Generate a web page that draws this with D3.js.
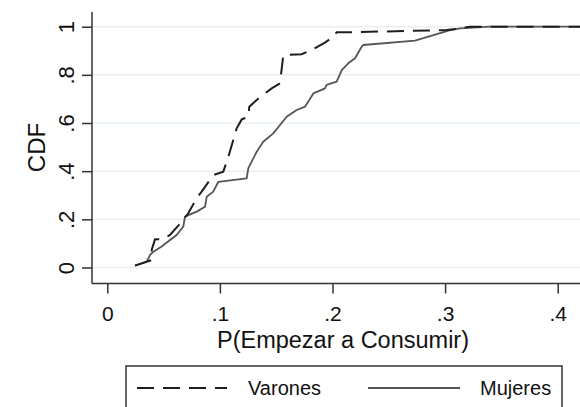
<!DOCTYPE html>
<html><head><meta charset="utf-8">
<script src="https://cdn.jsdelivr.net/npm/d3@7"></script>
<style>
html,body{margin:0;padding:0;background:#fff;}
svg{display:block;font-family:"Liberation Sans",Arial,sans-serif;}
</style></head>
<body>
<svg id="c" width="580" height="407"></svg>
<script>
const xTicks = [0, 0.1, 0.2, 0.3, 0.4];
const xTickLabels = ["0", ".1", ".2", ".3", ".4"];
const yTicks = [0, 0.2, 0.4, 0.6, 0.8, 1];
const yTickLabels = ["0", ".2", ".4", ".6", ".8", "1"];
const seriesNames = ["Varones", "Mujeres"];

const varonesX = [0.0246,0.0394,0.0394,0.0424,0.0483,0.0557,0.0661,0.0719,0.0794,0.0838,0.0941,0.103,0.1075,0.1149,0.1194,0.1252,0.1261,0.1327,0.146,0.1534,0.1563,0.1726,0.1815,0.1933,0.2007,0.2037,0.2155,0.3014,0.3133,0.322,0.43];
const varonesY = [0.008,0.031,0.073,0.117,0.117,0.135,0.190,0.225,0.288,0.315,0.384,0.398,0.459,0.578,0.615,0.626,0.668,0.696,0.744,0.765,0.882,0.886,0.903,0.934,0.958,0.977,0.977,0.986,0.993,1,1];

const mujeresX = [0.0246,0.035,0.038,0.0406,0.0483,0.0557,0.0616,0.0675,0.069,0.0794,0.0868,0.0883,0.0941,0.0986,0.1238,0.1252,0.1327,0.1385,0.1474,0.1534,0.1593,0.1682,0.1756,0.183,0.1933,0.1948,0.2037,0.2082,0.214,0.22,0.2259,0.2274,0.2733,0.3044,0.3133,0.34,0.43];
const mujeresY = [0.008,0.024,0.052,0.064,0.087,0.114,0.135,0.170,0.211,0.232,0.252,0.294,0.315,0.356,0.370,0.412,0.481,0.522,0.557,0.592,0.626,0.654,0.668,0.723,0.744,0.758,0.772,0.820,0.848,0.869,0.917,0.924,0.942,0.986,0.993,1,1];

const svg = d3.select("#c");
const x = d3.scaleLinear().domain([0, 0.4]).range([107.3, 557.7]);
const y = d3.scaleLinear().domain([0, 1]).range([267.5, 26.7]);
const axisX0 = 92, axisY0 = 283.5, plotTop = 12, plotRight = 580;
const txt = "#111", axCol = "#333";

svg.append("rect").attr("width", 580).attr("height", 407).attr("fill", "#fff");

// gridlines
svg.append("g").selectAll("line").data(yTicks).join("line")
  .attr("x1", axisX0).attr("x2", plotRight)
  .attr("y1", d => y(d)).attr("y2", d => y(d))
  .attr("stroke", "#e7f0f1").attr("stroke-width", 1.5);

// y axis
const yAxis = svg.append("g").attr("transform", `translate(${axisX0},0)`)
  .call(d3.axisLeft(y).tickValues(yTicks).tickSize(10).tickFormat((d, i) => yTickLabels[i]));
yAxis.select(".domain").remove();
yAxis.selectAll(".tick line").attr("stroke", axCol).attr("stroke-width", 1.5);
yAxis.selectAll(".tick text")
  .attr("fill", txt).attr("font-size", 22).attr("text-anchor", "middle")
  .attr("x", null).attr("dy", null)
  .attr("transform", "translate(-18,0) rotate(-90)");
svg.append("line").attr("x1", axisX0).attr("x2", axisX0).attr("y1", plotTop).attr("y2", axisY0)
  .attr("stroke", axCol).attr("stroke-width", 1.5);

// x axis
const xAxis = svg.append("g").attr("transform", `translate(0,${axisY0})`)
  .call(d3.axisBottom(x).tickValues(xTicks).tickSize(10).tickFormat((d, i) => xTickLabels[i]));
xAxis.select(".domain").remove();
xAxis.selectAll(".tick line").attr("stroke", axCol).attr("stroke-width", 1.5);
xAxis.selectAll(".tick text").attr("fill", txt).attr("font-size", 21)
  .attr("y", 37.5).attr("dy", null);
svg.append("line").attr("x1", axisX0).attr("x2", plotRight).attr("y1", axisY0).attr("y2", axisY0)
  .attr("stroke", axCol).attr("stroke-width", 1.5);

// axis titles
svg.append("text").attr("x", 343).attr("y", 347.5).attr("text-anchor", "middle")
  .attr("font-size", 23.5).attr("fill", txt).text("P(Empezar a Consumir)");
svg.append("text").attr("transform", "translate(45,147.5) rotate(-90)").attr("text-anchor", "middle")
  .attr("font-size", 24).attr("fill", txt).text("CDF");

// lines
const line = d3.line().x(d => x(d[0])).y(d => y(d[1]));
svg.append("defs").append("clipPath").attr("id", "pc").append("rect")
  .attr("x", axisX0).attr("y", 0).attr("width", plotRight - axisX0).attr("height", axisY0);
const lg = svg.append("g").attr("clip-path", "url(#pc)");
lg.append("path").datum(mujeresX.map((v, i) => [v, mujeresY[i]]))
  .attr("d", line).attr("fill", "none").attr("stroke", "#555").attr("stroke-width", 1.8)
  .attr("stroke-linejoin", "round");
lg.append("path").datum(varonesX.map((v, i) => [v, varonesY[i]]))
  .attr("d", line).attr("fill", "none").attr("stroke", "#1e1e1e").attr("stroke-width", 2)
  .attr("stroke-dasharray", "17,9");

// legend
svg.append("rect").attr("x", 126).attr("y", 366).attr("width", 436).attr("height", 60)
  .attr("fill", "#fff").attr("stroke", axCol).attr("stroke-width", 1.5);
svg.append("line").attr("x1", 137).attr("x2", 227).attr("y1", 388).attr("y2", 388)
  .attr("stroke", "#1e1e1e").attr("stroke-width", 2).attr("stroke-dasharray", "17,9");
svg.append("text").attr("x", 248).attr("y", 395).attr("font-size", 20).attr("fill", txt).text(seriesNames[0]);
svg.append("line").attr("x1", 368).attr("x2", 460).attr("y1", 388).attr("y2", 388)
  .attr("stroke", "#555").attr("stroke-width", 1.8);
svg.append("text").attr("x", 480).attr("y", 395).attr("font-size", 20).attr("fill", txt).text(seriesNames[1]);
</script>
</body></html>
